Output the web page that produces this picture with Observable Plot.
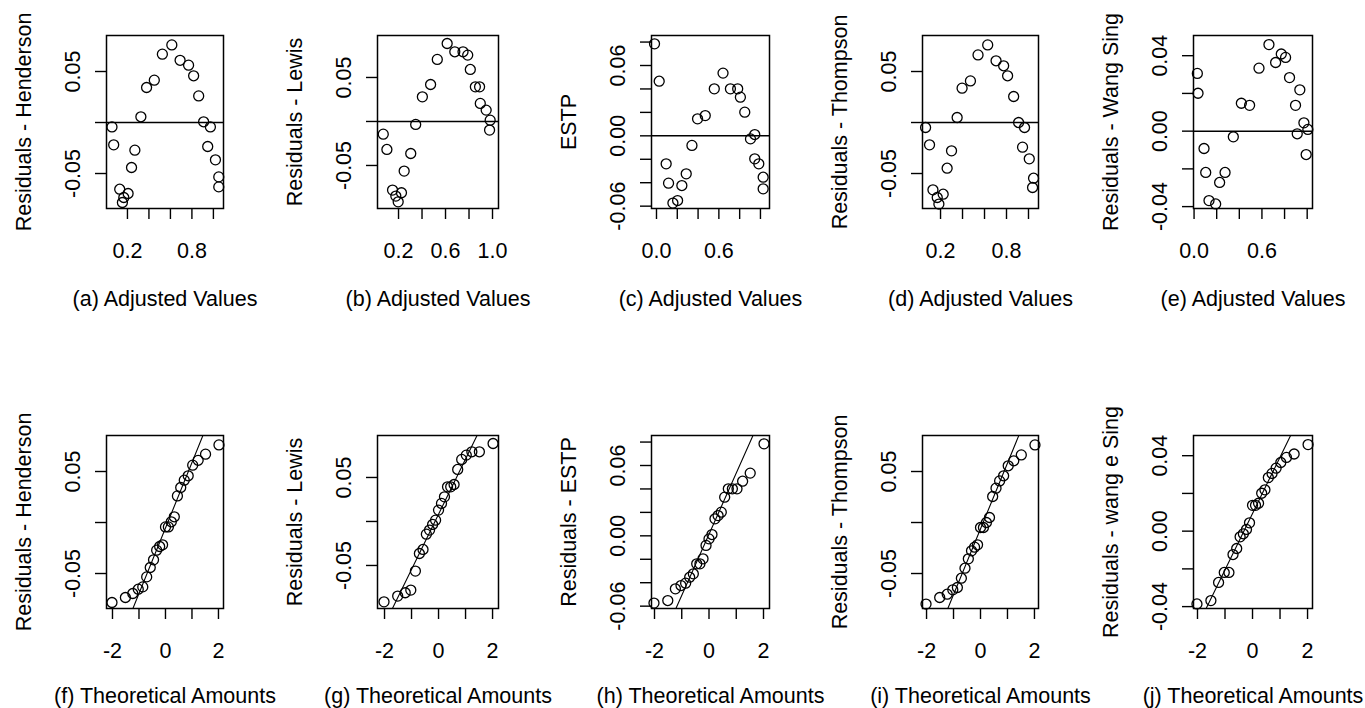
<!DOCTYPE html>
<html><head><meta charset="utf-8">
<script src="https://cdn.jsdelivr.net/npm/d3@7"></script>
<script src="https://cdn.jsdelivr.net/npm/@observablehq/plot@0.6"></script>
<style>
html,body{margin:0;padding:0;background:#fff;}
#fig{position:relative;width:1365px;height:708px;overflow:hidden;background:#fff;}
#fig svg{position:absolute;overflow:visible;}
</style></head><body><div id="fig"></div><script>
// ---- data (adjusted values, residuals) ----
const fittedHenderson = [0.613,0.525,0.690,0.769,0.816,0.450,0.378,0.863,0.325,0.909,0.972,0.056,0.072,0.269,0.947,1.019,0.238,1.050,1.050,0.128,0.206,0.166,0.153];
const residHenderson  = [0.0761,0.0670,0.0610,0.0562,0.0458,0.0415,0.0343,0.0261,0.0056,0.0007,-0.0043,-0.0043,-0.0219,-0.0271,-0.0235,-0.0366,-0.0441,-0.0533,-0.0631,-0.0654,-0.0696,-0.0735,-0.0784];
const fittedLewis = [0.614,0.679,0.749,0.789,0.530,0.811,0.473,0.854,0.890,0.403,0.896,0.946,0.346,0.980,0.975,0.070,0.101,0.304,0.248,0.149,0.225,0.177,0.197];
const residLewis  = [0.0886,0.0792,0.0792,0.0754,0.0705,0.0591,0.0420,0.0394,0.0394,0.0280,0.0205,0.0129,-0.0034,0.0015,-0.0098,-0.0144,-0.0318,-0.0364,-0.0564,-0.0780,-0.0810,-0.0848,-0.0913];
const fittedESTP = [-0.019,0.026,0.640,0.556,0.711,0.781,0.807,0.849,0.395,0.469,0.904,0.945,0.341,0.945,0.984,0.093,0.286,1.026,0.116,0.244,1.026,0.158,0.203];
const residESTP  = [0.0785,0.0466,0.0535,0.0401,0.0401,0.0401,0.0330,0.0202,0.0145,0.0173,-0.0026,0.0011,-0.0082,-0.0196,-0.0239,-0.0239,-0.0324,-0.0353,-0.0404,-0.0424,-0.0452,-0.0574,-0.0552];
const fittedThompson = [0.629,0.541,0.705,0.774,0.810,0.472,0.396,0.865,0.351,0.910,0.964,0.064,0.100,0.300,0.946,1.007,0.260,1.046,1.037,0.131,0.224,0.170,0.185];
const residThompson  = [0.0761,0.0663,0.0605,0.0556,0.0458,0.0408,0.0337,0.0255,0.0049,0.0000,-0.0049,-0.0049,-0.0219,-0.0278,-0.0242,-0.0356,-0.0448,-0.0546,-0.0637,-0.0660,-0.0703,-0.0735,-0.0800];
const fittedWangSing = [0.662,0.771,0.809,0.721,0.574,0.029,0.844,0.935,0.035,0.418,0.491,0.897,0.971,1.006,0.912,0.347,0.088,0.991,0.103,0.274,0.226,0.132,0.191];
const residWangSing  = [0.0459,0.0409,0.0391,0.0364,0.0334,0.0306,0.0284,0.0219,0.0201,0.0148,0.0137,0.0137,0.0044,0.0009,-0.0014,-0.0030,-0.0092,-0.0124,-0.0219,-0.0219,-0.0272,-0.0368,-0.0386];

// ---- tick values and tick labels ----
const adjTicks02 = [0.2,0.4,0.6,0.8,1.0];
const adjLabels02 = ["0.2","","","0.8",""];
const adjLabels02b = ["0.2","","0.6","","1.0"];
const adjTicks00 = [0.0,0.2,0.4,0.6,0.8,1.0];
const adjLabels00 = ["0.0","","","0.6","",""];
const qqTicks = [-2,-1,0,1,2];
const qqLabels = ["-2","","0","","2"];
const res05Ticks = [-0.05,0,0.05];
const res05Labels = ["-0.05","","0.05"];
const res06Ticks = [-0.06,-0.04,-0.02,0,0.02,0.04,0.06,0.08];
const res06Labels = ["-0.06","","","0.00","","","0.06",""];
const res04Ticks = [-0.04,-0.02,0,0.02,0.04];
const res04Labels = ["-0.04","","0.00","","0.04"];

// ---- titles ----
const yTitlesTop = ["Residuals - Henderson","Residuals - Lewis","ESTP","Residuals - Thompson","Residuals - Wang Sing"];
const yTitlesBottom = ["Residuals - Henderson","Residuals - Lewis","Residuals - ESTP","Residuals - Thompson","Residuals - wang e Sing"];
const xTitlesTop = ["(a) Adjusted Values","(b) Adjusted Values","(c) Adjusted Values","(d) Adjusted Values","(e) Adjusted Values"];
const xTitlesBottom = ["(f) Theoretical Amounts","(g) Theoretical Amounts","(h) Theoretical Amounts","(i) Theoretical Amounts","(j) Theoretical Amounts"];

// ---- layout ----
const colX = [0,273,546,819,1092];
const colW = [273,273,273,273,273];
const boxL = [106,377,651,922,1193];
const boxR = [223,498,769,1038,1312];
const FONT = "'Liberation Sans', Arial, Helvetica, sans-serif";

function qnorm(p) {
  const a=[-3.969683028665376e+01,2.209460984245205e+02,-2.759285104469687e+02,1.383577518672690e+02,-3.066479806614716e+01,2.506628277459239e+00];
  const b=[-5.447609879822406e+01,1.615858368580409e+02,-1.556989798598866e+02,6.680131188771972e+01,-1.328068155288572e+01];
  const c=[-7.784894002430293e-03,-3.223964580411365e-01,-2.400758277161838e+00,-2.549732539343734e+00,4.374664141464968e+00,2.938163982698783e+00];
  const d=[7.784695709041462e-03,3.224671290700398e-01,2.445134137142996e+00,3.754408661907416e+00];
  const pl=0.02425, ph=1-pl; let q,r;
  if (p<pl){q=Math.sqrt(-2*Math.log(p));return (((((c[0]*q+c[1])*q+c[2])*q+c[3])*q+c[4])*q+c[5])/((((d[0]*q+d[1])*q+d[2])*q+d[3])*q+1);}
  if (p>ph){q=Math.sqrt(-2*Math.log(1-p));return -(((((c[0]*q+c[1])*q+c[2])*q+c[3])*q+c[4])*q+c[5])/((((d[0]*q+d[1])*q+d[2])*q+d[3])*q+1);}
  q=p-0.5; r=q*q;
  return (((((a[0]*r+a[1])*r+a[2])*r+a[3])*r+a[4])*r+a[5])*q/(((((b[0]*r+b[1])*r+b[2])*r+b[3])*r+b[4])*r+1);
}
function qqData(res) {
  const s = res.slice().sort((u,v)=>u-v), n = s.length;
  return s.map((y,i)=>({x: qnorm((i+1-0.5)/n), y}));
}
function fmt(ticks, labels) { const m = new Map(ticks.map((t,i)=>[t,labels[i]])); return d => m.get(d) ?? ""; }

const fig = document.getElementById("fig");
function panel(o) {
  const {col,row} = o;
  const W = colW[col];
  const marks = [
    Plot.axisX({ticks:o.xTicks, tickFormat:fmt(o.xTicks,o.xLabels), tickSize:11, tickPadding:23, strokeWidth:1.4, label:null, anchor:"bottom"}),
    Plot.axisY({ticks:o.yTicks, tickFormat:fmt(o.yTicks,o.yLabels), tickSize:11, tickPadding:16, tickRotate:-90, strokeWidth:1.4, label:null, anchor:"left"}),
    Plot.frame({stroke:"#000", strokeWidth:1.5})
  ];
  if (o.zero) marks.push(Plot.ruleY([0], {stroke:"#000", strokeWidth:1.5}));
  if (o.qq) {
    const ys = o.data.map(d=>d.y);
    const q1 = d3.quantile(ys,0.25), q3 = d3.quantile(ys,0.75);
    const x1 = qnorm(0.25), x2 = qnorm(0.75);
    const slope = (q3-q1)/(x2-x1), icpt = q1 - slope*x1;
    const ends = o.xDomain.map(x=>({x, y: icpt + slope*x}));
    marks.push(Plot.line(ends, {x:"x", y:"y", stroke:"#000", strokeWidth:1.1, clip:true}));
  }
  marks.push(Plot.dot(o.data, {x:"x", y:"y", r:5, stroke:"#000", fill:"none", strokeWidth:1.3}));
  marks.push(Plot.text([o.xTitle], {text:d=>d, frameAnchor:"bottom", dy: row ? 79 : 82, lineAnchor:"top", textAnchor:"middle", fill:"#000"}));
  marks.push(Plot.text([o.yTitle], {text:d=>d, frameAnchor:"left", dx:-91, rotate:-90, lineAnchor:"top", textAnchor:"middle", fill:"#000"}));
  const svg = Plot.plot({
    width: W, height: 354,
    marginLeft: boxL[col]-colX[col], marginRight: colX[col]+W-boxR[col],
    marginTop: row ? 81 : 35, marginBottom: row ? 100 : 146,
    style: {fontFamily: FONT, fontSize: "21.5px", color: "#000", background: "transparent"},
    x: {domain: o.xDomain}, y: {domain: o.yDomain},
    marks
  });
  svg.style.left = colX[col] + "px";
  svg.style.top = (row*354) + "px";
  svg.style.maxWidth = "none";
  svg.style.overflow = "visible";
  fig.append(svg);
}
const pts = (xs, ys) => xs.map((x,i)=>({x, y: ys[i]}));

const yDomA = [-0.0843,0.0853], yDomB = [-0.0989,0.0977], yDomC = [-0.062,0.0856], yDomE = [-0.041,0.0507];

panel({col:0,row:0,data:pts(fittedHenderson,residHenderson),xDomain:[0.005,1.094],yDomain:yDomA,xTicks:adjTicks02,xLabels:adjLabels02,yTicks:res05Ticks,yLabels:res05Labels,xTitle:xTitlesTop[0],yTitle:yTitlesTop[0],zero:true});
panel({col:1,row:0,data:pts(fittedLewis,residLewis),xDomain:[0.021,1.051],yDomain:yDomB,xTicks:adjTicks02,xLabels:adjLabels02b,yTicks:res05Ticks,yLabels:res05Labels,xTitle:xTitlesTop[1],yTitle:yTitlesTop[1],zero:true});
panel({col:2,row:0,data:pts(fittedESTP,residESTP),xDomain:[-0.048,1.087],yDomain:yDomC,xTicks:adjTicks00,xLabels:adjLabels00,yTicks:res06Ticks,yLabels:res06Labels,xTitle:xTitlesTop[2],yTitle:yTitlesTop[2],zero:true});
panel({col:3,row:0,data:pts(fittedThompson,residThompson),xDomain:[0.036,1.091],yDomain:yDomA,xTicks:adjTicks02,xLabels:adjLabels02,yTicks:res05Ticks,yLabels:res05Labels,xTitle:xTitlesTop[3],yTitle:yTitlesTop[3],zero:true});
panel({col:4,row:0,data:pts(fittedWangSing,residWangSing),xDomain:[-0.005,1.047],yDomain:yDomE,xTicks:adjTicks00,xLabels:adjLabels00,yTicks:res04Ticks,yLabels:res04Labels,xTitle:xTitlesTop[4],yTitle:yTitlesTop[4],zero:true});

panel({col:0,row:1,data:qqData(residHenderson),xDomain:[-2.226,2.19],yDomain:yDomA,xTicks:qqTicks,xLabels:qqLabels,yTicks:res05Ticks,yLabels:res05Labels,xTitle:xTitlesBottom[0],yTitle:yTitlesBottom[0],qq:true});
panel({col:1,row:1,data:qqData(residLewis),xDomain:[-2.26,2.22],yDomain:yDomB,xTicks:qqTicks,xLabels:qqLabels,yTicks:res05Ticks,yLabels:res05Labels,xTitle:xTitlesBottom[1],yTitle:yTitlesBottom[1],qq:true});
panel({col:2,row:1,data:qqData(residESTP),xDomain:[-2.11,2.22],yDomain:yDomC,xTicks:qqTicks,xLabels:qqLabels,yTicks:res06Ticks,yLabels:res06Labels,xTitle:xTitlesBottom[2],yTitle:yTitlesBottom[2],qq:true});
panel({col:3,row:1,data:qqData(residThompson),xDomain:[-2.15,2.15],yDomain:yDomA,xTicks:qqTicks,xLabels:qqLabels,yTicks:res05Ticks,yLabels:res05Labels,xTitle:xTitlesBottom[3],yTitle:yTitlesBottom[3],qq:true});
panel({col:4,row:1,data:qqData(residWangSing),xDomain:[-2.145,2.18],yDomain:yDomE,xTicks:qqTicks,xLabels:qqLabels,yTicks:res04Ticks,yLabels:res04Labels,xTitle:xTitlesBottom[4],yTitle:yTitlesBottom[4],qq:true});
</script></body></html>
